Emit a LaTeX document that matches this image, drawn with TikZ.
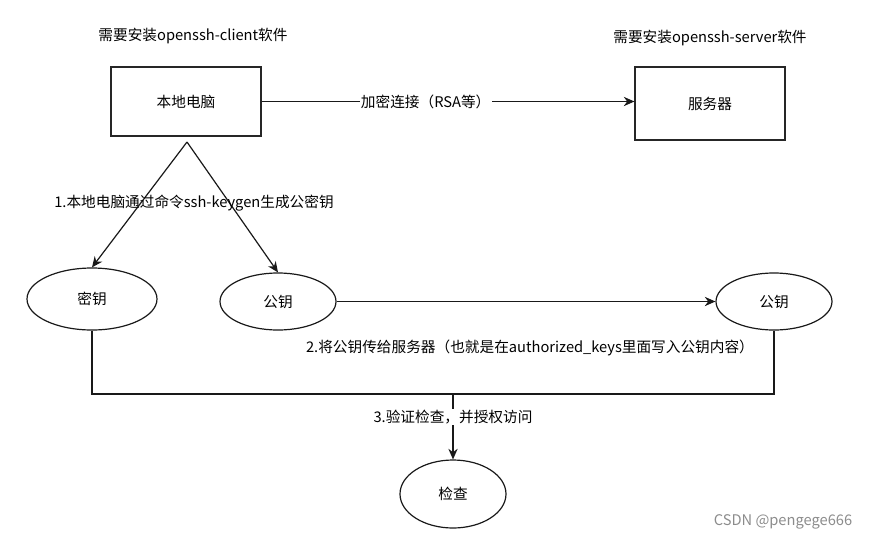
\documentclass[tikz,border=0pt]{standalone}
\usepackage{fontspec}
\setmainfont{Noto Sans CJK SC}
\usetikzlibrary{shapes.geometric,arrows.meta}
\tikzset{
  box/.style={draw=black!85, line width=0.9pt, minimum width=112.5pt, inner sep=0pt},
  oval/.style={draw=black!90, ellipse, line width=0.9pt, inner sep=0pt},
  conn/.style={draw=black!90, line width=0.9pt},
  arr/.style={conn, -{Stealth[length=8pt,width=7pt]}},
  lbl/.style={fill=white, inner sep=1pt},
  txt/.style={font=\fontsize{11pt}{13pt}\selectfont}
}
\begin{document}
\begin{tikzpicture}[x=0.75pt,y=-0.75pt, every node/.style={txt}]
\useasboundingbox (0,0) rectangle (872,540);
\node (t1) at (193,36) {需要安装openssh-client软件};
\node (t2) at (710,38) {需要安装openssh-server软件};
\node[box, minimum height=51.75pt] (bd) at (186,101.5) {本地电脑};
\node[box, minimum height=54.75pt] (fw) at (710,103.5) {服务器};
\draw[arr] (bd.east) -- (fw.west |- bd.east)
  node[lbl, pos=0.44] (l0) {加密连接（RSA等）};
\coordinate (apex) at (187,142);
\node[oval, minimum width=97.5pt, minimum height=46.5pt] (my) at (92,299) {密钥};
\node[oval, minimum width=87pt, minimum height=42.75pt] (gy1) at (278,301.5) {公钥};
\node[oval, minimum width=87pt, minimum height=42.75pt] (gy2) at (774,301.5) {公钥};
\node[oval, minimum width=79.5pt, minimum height=51pt] (jc) at (453,494) {检查};
\draw[arr] (apex) -- (my.north);
\draw[arr] (apex) -- (gy1.north);
\node (l1) at (194,203) {1.本地电脑通过命令ssh-keygen生成公密钥};
\draw[arr] (gy1.east) -- (gy2.west);
\node (l2) at (530,348) {2.将公钥传给服务器（也就是在authorized\_keys里面写入公钥内容）};
\coordinate (j) at (453,394);
\draw[conn] (my.south) |- (j);
\draw[conn] (gy2.south) |- (j);
\draw[arr] (j) -- (jc.north) node[lbl, pos=0.35] (l3) {3.验证检查，并授权访问};
\node[text=black!45, font=\fontsize{11pt}{13pt}\selectfont] (wm) at (783,522) {CSDN @pengege666};
\end{tikzpicture}
\end{document}
